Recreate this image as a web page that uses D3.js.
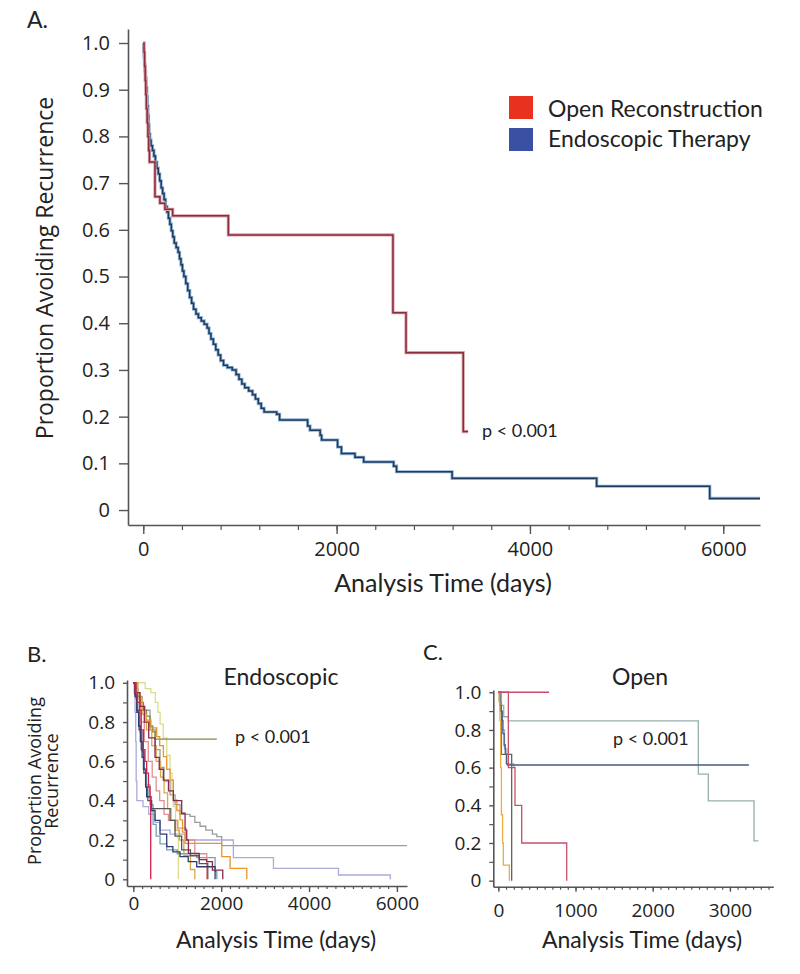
<!DOCTYPE html>
<html>
<head>
<meta charset="utf-8">
<script src="https://cdn.jsdelivr.net/npm/d3@7"></script>
<style>
  body { margin: 0; background: #fff; }
  svg { display: block; }
</style>
</head>
<body>
<svg id="chart" width="800" height="974"></svg>
<script>
// ---- Panel A: pooled Kaplan-Meier curves ([days, proportion]) ----
var openRecon = [[0,1.0],[8,0.98],[14,0.95],[20,0.92],[26,0.89],[32,0.86],[40,0.83],[48,0.80],[56,0.77],[64,0.745],
  [121,0.671],[172,0.657],[224,0.644],[304,0.63],[880,0.589],[2583,0.4225],[2718,0.337],[3310,0.168],[3360,0.168]];
var endoTherapy = [[0,1.0],[4,0.985],[8,0.97],[12,0.955],[18,0.94],[24,0.925],[30,0.905],[36,0.885],[42,0.865],[48,0.845],
  [54,0.825],[60,0.805],[68,0.792],[80,0.78],[95,0.77],[110,0.758],[125,0.745],[140,0.732],[155,0.72],[170,0.705],
  [185,0.69],[200,0.678],[215,0.665],[230,0.65],[245,0.638],[260,0.625],[275,0.612],[290,0.598],[305,0.585],[320,0.572],
  [340,0.562],[360,0.552],[375,0.538],[390,0.525],[405,0.512],[420,0.5],[440,0.485],[460,0.47],[480,0.455],[500,0.443],
  [520,0.43],[545,0.42],[570,0.412],[600,0.405],[630,0.398],[660,0.39],[680,0.378],[700,0.366],[725,0.355],[750,0.343],
  [775,0.332],[800,0.32],[830,0.31],[870,0.305],[920,0.3],[960,0.29],[990,0.28],[1020,0.27],[1050,0.262],[1090,0.255],
  [1130,0.247],[1160,0.238],[1190,0.228],[1220,0.218],[1250,0.21],[1380,0.205],[1410,0.193],[1700,0.18],[1725,0.171],
  [1830,0.16],[1845,0.15],[2010,0.135],[2050,0.121],[2190,0.113],[2280,0.103],[2590,0.094],[2620,0.082],[3195,0.068],
  [4690,0.051],[5860,0.025],[6380,0.025]];
var legendLabels = ["Open Reconstruction", "Endoscopic Therapy"];
var aYTicks = [0,0.1,0.2,0.3,0.4,0.5,0.6,0.7,0.8,0.9,1.0];
var aXTicks = [0,2000,4000,6000];

// ---- Panel B: endoscopic, by site ----
var bOlive = [[0,1],[40,0.97],[100,0.93],[160,0.9],[230,0.86],[300,0.83],[380,0.78],[440,0.75],[494,0.713],[1900,0.713]];
var bPale = [[0,1],[270,0.97],[400,0.95],[500,0.9],[560,0.85],[610,0.79],[680,0.72],[760,0.63],[836,0.54],[880,0.45],[911,0.37],[960,0.3],[1025,0]];
var bOrange = [[0,1],[60,0.95],[150,0.88],[266,0.81],[400,0.77],[532,0.726],[600,0.68],[684,0.624],[760,0.56],[836,0.505],[911,0.404],[990,0.35],[1063,0.302],[1120,0.24],[1178,0.183],[2013,0.115],[2203,0.056],[2583,0]];
var bGray = [[0,1],[100,0.93],[200,0.86],[380,0.76],[500,0.66],[608,0.57],[700,0.5],[836,0.43],[950,0.38],[1063,0.33],[1292,0.32],[1400,0.29],[1519,0.27],[1650,0.25],[1800,0.23],[1900,0.217],[2013,0.171],[6230,0.171]];
var bLavender = [[0,1],[20,0.95],[40,0.85],[55,0.7],[65,0.5],[80,0.4],[220,0.37],[350,0.33],[494,0.29],[608,0.25],[836,0.23],[1178,0.2],[2278,0.11],[3190,0.056],[4670,0.022],[5850,0]];
var bCrimson = [[0,1],[40,0.95],[90,0.9],[140,0.86],[180,0.76],[228,0.66],[265,0.6],[304,0.54],[345,0.47],[380,0.42],[396,0]];
var bNavy = [[0,1],[40,0.93],[80,0.85],[120,0.78],[160,0.7],[200,0.62],[240,0.54],[280,0.47],[304,0.42],[400,0.35],[494,0.3],[608,0.23],[760,0.166],[900,0.14],[1063,0.115],[1250,0.09],[1443,0.064],[1861,0]];
var bMaroon = [[0,1],[60,0.95],[150,0.88],[250,0.8],[350,0.72],[494,0.62],[590,0.56],[684,0.505],[800,0.45],[911,0.4],[1101,0.336],[1178,0.25],[1216,0.2],[1254,0.132],[1500,0.1],[1671,0.09],[1800,0.047],[2036,0]];
var bDark = [[0,1],[30,0.94],[80,0.86],[130,0.76],[180,0.66],[230,0.56],[280,0.47],[330,0.4],[418,0.36],[836,0.3],[950,0.22],[1100,0.15],[1300,0.12],[1500,0.08],[1695,0]];
var bTeal = [[0,1],[50,0.92],[100,0.85],[150,0.75],[200,0.65],[250,0.56],[300,0.48],[380,0.38],[450,0.28],[520,0.22],[608,0.18],[760,0.15],[1000,0.13],[1443,0.11],[1861,0.04],[1900,0]];
var bSalmon = [[0,1],[80,0.9],[160,0.8],[250,0.7],[340,0.6],[430,0.52],[520,0.45],[600,0.4],[700,0.33],[800,0.3],[1000,0.26],[1200,0.2],[1400,0.13],[1671,0]];
var bGold = [[0,1],[100,0.92],[200,0.84],[300,0.76],[420,0.68],[520,0.6],[620,0.52],[700,0.44],[780,0.36],[860,0.3],[950,0.25],[1050,0.2],[1150,0.12],[1300,0.05],[1400,0]];
var bYTicks = [0,0.2,0.4,0.6,0.8,1.0];
var bXTicks = [0,2000,4000,6000];

// ---- Panel C: open, by site ----
var cRose = [[0,1],[657,1]];
var cRed = [[0,1],[130,0.6],[216,0.4],[303,0.2],[886,0]];
var cGrayTeal = [[0,1],[40,0.93],[70,0.87],[130,0.848],[2591,0.565],[2720,0.423],[3312,0.211],[3368,0.211]];
var cSlate = [[0,1],[15,0.95],[30,0.9],[50,0.85],[60,0.78],[75,0.72],[90,0.67],[105,0.62],[120,0.614],[3246,0.614]];
var cGreen = [[0,1],[20,0.93],[40,0.67],[173,0]];
var cYellow = [[0,1],[10,0.95],[20,0.85],[30,0.6],[40,0.35],[55,0.2],[65,0.083],[143,0]];
var cLightBlue = [[0,1],[25,0.9],[50,0.8],[80,0.7],[110,0.62],[200,0.6]];
var cYTicks = [0,0.2,0.4,0.6,0.8,1.0];
var cXTicks = [0,1000,2000,3000];

var pText = "p < 0.001";

var svg = d3.select("#chart");
var axisColor = "#555";
var labelFont = "Lato, 'Open Sans', sans-serif";
var tickFont = "'Open Sans', sans-serif";

function fmt(d){ return d === 0 ? "0" : d.toFixed(1); }

function kmLine(x, y){
  return d3.line().x(function(d){ return x(d[0]); }).y(function(d){ return y(d[1]); }).curve(d3.curveStepAfter);
}

function styleAxis(g, size){
  g.select(".domain").attr("stroke", axisColor).attr("stroke-width", 1.6);
  g.selectAll(".tick line").attr("stroke", axisColor).attr("stroke-width", 1.4);
  g.selectAll(".tick text").style("font-family", tickFont).style("font-size", size + "px").attr("fill", "#222");
}

function range(a, b, step){
  var out = [];
  for (var v = a; v <= b + 1e-9; v += step) out.push(+v.toFixed(4));
  return out;
}

//Draws a panel's axes
function drawAxes(x, y, opt){
  // minor x ticks
  svg.append("g")
    .attr("transform", "translate(0," + opt.axisY + ")")
    .call(d3.axisBottom(x).tickValues(opt.xMinor).tickSize(opt.minorLen).tickFormat("").tickSizeOuter(0))
    .call(function(g){ g.select(".domain").remove(); g.selectAll("line").attr("stroke", axisColor).attr("stroke-width", 1.2); });
  // major x ticks
  var gx = svg.append("g")
    .attr("transform", "translate(0," + opt.axisY + ")")
    .call(d3.axisBottom(x).tickValues(opt.xTicks).tickSize(opt.majorLen).tickPadding(opt.xPad).tickSizeOuter(0).tickFormat(d3.format("d")));
  styleAxis(gx, opt.fontSize);

  if (opt.yMinor) {
    svg.append("g")
      .attr("transform", "translate(" + opt.axisX + ",0)")
      .call(d3.axisLeft(y).tickValues(opt.yMinor).tickSize(opt.yLen).tickFormat("").tickSizeOuter(0))
      .call(function(g){ g.select(".domain").remove(); g.selectAll("line").attr("stroke", axisColor).attr("stroke-width", 1.2); });
  }
  var gy = svg.append("g")
    .attr("transform", "translate(" + opt.axisX + ",0)")
    .call(d3.axisLeft(y).tickValues(opt.yTicks).tickSize(opt.yLen).tickPadding(opt.yPad).tickSizeOuter(0).tickFormat(fmt));
  styleAxis(gy, opt.fontSize);
}

// ================= Panel A =================
var xA = d3.scaleLinear().domain([-158, 6380]).range([128, 760]);
var yA = d3.scaleLinear().domain([-0.032, 1.03]).range([525, 29]);

drawAxes(xA, yA, {axisY: 525, axisX: 128, xTicks: aXTicks, xMinor: range(0, 6000, 400), majorLen: 9, minorLen: 5,
  xPad: 8, yTicks: aYTicks, yLen: 9, yPad: 9, fontSize: 20});

var lineA = kmLine(xA, yA);
[{d: endoTherapy, glow: "#8fb2d2", core: "#1d3a5f"}, {d: openRecon, glow: "#d9a0a8", core: "#8a2c3c"}].forEach(function(s){
  svg.append("path").datum(s.d).attr("d", lineA).attr("fill", "none").attr("stroke", s.glow).attr("stroke-width", 3.2);
  svg.append("path").datum(s.d).attr("d", lineA).attr("fill", "none").attr("stroke", s.core).attr("stroke-width", 1.5);
});

svg.append("text").attr("x", 27).attr("y", 28).text("A.")
  .style("font-family", labelFont).style("font-size", "23px").attr("fill", "#222");

svg.append("text")
  .attr("transform", "translate(53,268) rotate(-90)")
  .attr("text-anchor", "middle")
  .style("font-family", tickFont).style("font-size", "23px").attr("fill", "#222")
  .text("Proportion Avoiding Recurrence");

svg.append("text").attr("x", 443).attr("y", 592).attr("text-anchor", "middle")
  .style("font-family", labelFont).style("font-size", "25px").attr("fill", "#222")
  .text("Analysis Time (days)");

svg.append("text").attr("x", 482).attr("y", 437).text(pText)
  .style("font-family", labelFont).style("font-size", "18px").attr("fill", "#222");

// legend
var legendColors = ["#e8321f", "#3a50a2"];
legendLabels.forEach(function(l, i){
  svg.append("rect").attr("x", 509).attr("y", 96 + i * 32).attr("width", 24).attr("height", 23).attr("fill", legendColors[i]);
  svg.append("text").attr("x", 548).attr("y", 117 + i * 30).text(l)
    .style("font-family", labelFont).style("font-size", "23px").attr("fill", "#222");
});

// ================= Panel B =================
var xB = d3.scaleLinear().domain([-144, 6230]).range([127, 407]);
var yB = d3.scaleLinear().domain([-0.034, 1.014]).range([886, 680]);

drawAxes(xB, yB, {axisY: 886, axisX: 127, xTicks: bXTicks, xMinor: range(0, 6000, 200), majorLen: 6, minorLen: 3,
  xPad: 5, yTicks: bYTicks, yMinor: range(0.1, 0.9, 0.2), yLen: 4, yPad: 8, fontSize: 19});

var lineB = kmLine(xB, yB);
var bSeries = [bGray, bLavender, bPale, bOlive, bTeal, bSalmon, bGold, bOrange, bDark, bNavy, bMaroon, bCrimson];
var bColors = ["#9c9c9c", "#a9abd9", "#dcdc8e", "#7e8a3e", "#74a2b8", "#e09090", "#d9a84a", "#e8952a", "#555555", "#2c3c72", "#8a2a4a", "#d41e4e"];
bSeries.forEach(function(s, i){
  svg.append("path").datum(s).attr("d", lineB).attr("fill", "none").attr("stroke", bColors[i]).attr("stroke-width", 1.3);
});

svg.append("text").attr("x", 27).attr("y", 662).text("B.")
  .style("font-family", labelFont).style("font-size", "22px").attr("fill", "#222");
svg.append("text").attr("x", 281).attr("y", 685).attr("text-anchor", "middle").text("Endoscopic")
  .style("font-family", labelFont).style("font-size", "23px").attr("fill", "#222");
svg.append("text").attr("x", 235).attr("y", 743).text(pText)
  .style("font-family", labelFont).style("font-size", "18px").attr("fill", "#222");
var bTitle = svg.append("text")
  .attr("transform", "translate(0,781) rotate(-90)")
  .attr("text-anchor", "middle")
  .style("font-family", tickFont).style("font-size", "18px").attr("fill", "#222");
bTitle.append("tspan").attr("x", 0).attr("y", 41).text("Proportion Avoiding");
bTitle.append("tspan").attr("x", 0).attr("y", 58).text("Recurrence");
svg.append("text").attr("x", 276).attr("y", 948).attr("text-anchor", "middle")
  .style("font-family", labelFont).style("font-size", "23px").attr("fill", "#222")
  .text("Analysis Time (days)");

// ================= Panel C =================
var xC = d3.scaleLinear().domain([-65, 3562]).range([493.3, 773.3]);
var yC = d3.scaleLinear().domain([-0.032, 1.012]).range([886.7, 690]);

drawAxes(xC, yC, {axisY: 886.7, axisX: 493.3, xTicks: cXTicks, xMinor: range(0, 3500, 100), majorLen: 5, minorLen: 3,
  xPad: 12, yTicks: cYTicks, yMinor: range(0.1, 0.9, 0.2), yLen: 4, yPad: 8, fontSize: 19});

var lineC = kmLine(xC, yC);
var cSeries = [cGrayTeal, cLightBlue, cSlate, cGreen, cYellow, cRed, cRose];
var cColors = ["#97aeac", "#8fb4d8", "#4c5a7e", "#5b6b52", "#e8b040", "#c8506c", "#c84a6a"];
cSeries.forEach(function(s, i){
  svg.append("path").datum(s).attr("d", lineC).attr("fill", "none").attr("stroke", cColors[i]).attr("stroke-width", 1.3);
});

svg.append("text").attr("x", 423).attr("y", 660).text("C.")
  .style("font-family", labelFont).style("font-size", "22px").attr("fill", "#222");
svg.append("text").attr("x", 640).attr("y", 685).attr("text-anchor", "middle").text("Open")
  .style("font-family", labelFont).style("font-size", "23px").attr("fill", "#222");
svg.append("text").attr("x", 613).attr("y", 745).text(pText)
  .style("font-family", labelFont).style("font-size", "18px").attr("fill", "#222");
svg.append("text").attr("x", 642).attr("y", 948).attr("text-anchor", "middle")
  .style("font-family", labelFont).style("font-size", "23px").attr("fill", "#222")
  .text("Analysis Time (days)");
</script>
</body>
</html>
